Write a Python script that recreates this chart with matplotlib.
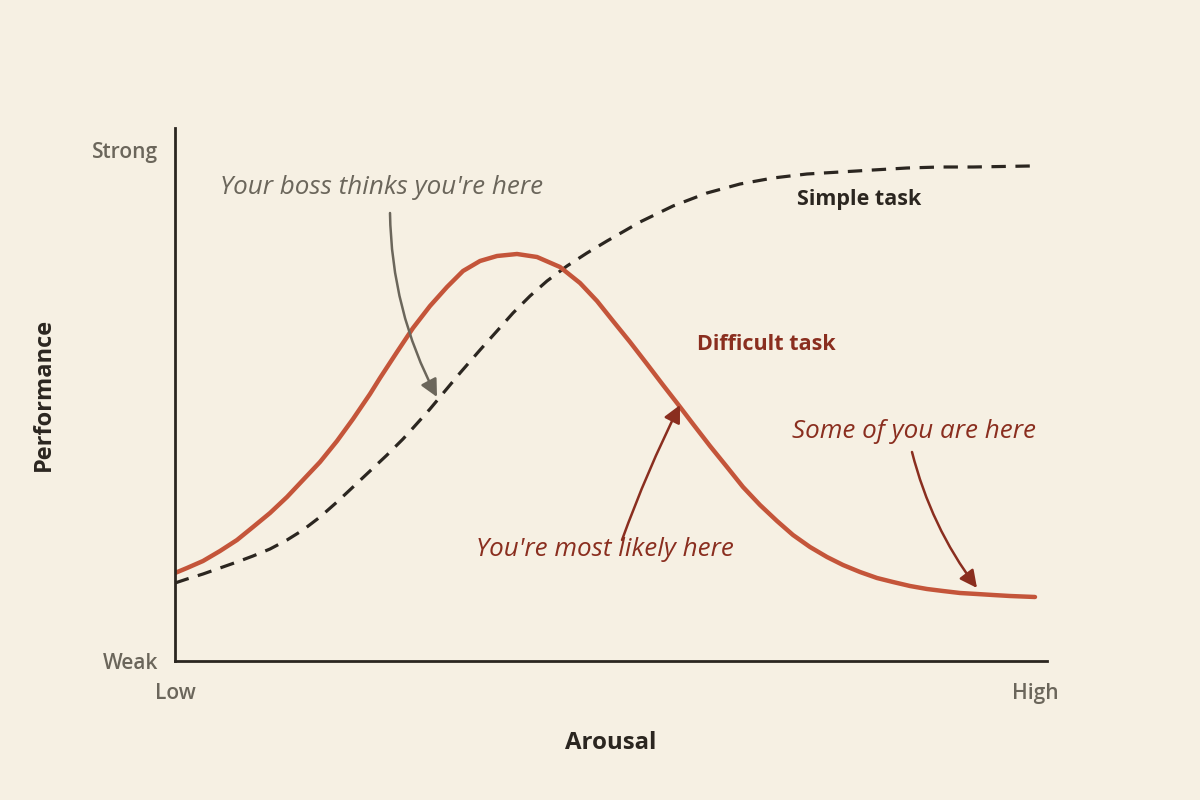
#!/usr/bin/env python3

"""
Yerkes-Dodson style chart: performance vs arousal
"""

import matplotlib
matplotlib.use("Agg")
import matplotlib.pyplot as plt

# Arbitrary units (x: arousal, y: performance)
difficult_x = [0, 12, 28, 45, 62, 78, 95, 112, 128, 145, 162, 178, 195, 205, 222, 238,
               255, 272, 288, 305, 322, 342, 362, 385, 405, 422, 438, 455, 472, 488, 502,
               518, 535, 552, 568, 585, 602, 618, 635, 652, 668, 685, 702, 718, 735, 752,
               768, 785, 802, 818, 835, 860]
difficult_y = [88, 93, 100, 110, 121, 134, 148, 164, 181, 199, 220, 242, 267, 283, 309, 333,
               355, 374, 390, 400, 405, 407, 404, 394, 378, 360, 340, 319, 297, 276, 258,
               237, 215, 194, 174, 156, 140, 126, 114, 104, 96, 89, 83, 79, 75, 72,
               70, 68, 67, 66, 65, 64]

simple_x = [0, 12, 28, 45, 62, 78, 95, 112, 128, 145, 162, 178, 195, 212, 228, 238, 255,
            265, 285, 305, 322, 338, 355, 372, 392, 412, 432, 465, 498, 532, 565, 598,
            632, 665, 698, 732, 765, 798, 855]
simple_y = [78, 82, 87, 93, 99, 105, 112, 121, 131, 144, 159, 174, 190, 206, 222, 233, 252,
            264, 288, 311, 330, 348, 365, 380, 395, 408, 420, 439, 455, 468, 477, 483,
            487, 489, 491, 493, 494, 494, 495]

y_ticks = [0, 511]
y_labels = ["Weak", "Strong"]
x_ticks = [0, 860]
x_labels = ["Low", "High"]

bg = "#F6F0E3"
red = "#C4553A"
dark_red = "#8A2E1F"
ink = "#2B2620"
gray = "#6B665B"

hand = {"family": "Open Sans", "style": "italic", "size": 18.7}
sans = ["Open Sans", "DejaVu Sans"]

fig = plt.figure(figsize=(12, 8), dpi=100, facecolor=bg)
ax = fig.add_axes([175 / 1200, 139 / 800, 872 / 1200, 533 / 800])
ax.set_facecolor(bg)

ax.plot(simple_x, simple_y, color=ink, lw=2.3, ls=(0, (4.5, 3)), solid_capstyle="butt")
ax.plot(difficult_x, difficult_y, color=red, lw=3.2, solid_capstyle="round",
        solid_joinstyle="round")

ax.set_xlim(0, 872)
ax.set_ylim(0, 533)
for s in ["top", "right"]:
    ax.spines[s].set_visible(False)
for s in ["left", "bottom"]:
    ax.spines[s].set_color(ink)
    ax.spines[s].set_linewidth(2)

ax.set_xticks(x_ticks, x_labels)
ax.set_yticks(y_ticks, y_labels)
ax.tick_params(length=0, labelsize=15, labelcolor=gray)
ax.tick_params(axis="x", pad=16)
ax.tick_params(axis="y", pad=12)
for lab in ax.get_xticklabels() + ax.get_yticklabels():
    lab.set_family(sans)
    lab.set_weight("semibold")

ax.set_xlabel("Arousal", fontsize=17.3, fontweight="bold", color=ink, family=sans, labelpad=19)
ax.set_ylabel("Performance", fontsize=17, fontweight="bold", color=ink, family=sans, labelpad=26)

# Curve labels
ax.text(684, 461, "Simple task", fontsize=15.5, fontweight="bold", color=ink,
        family=sans, ha="center", va="center")
ax.text(591, 317, "Difficult task", fontsize=15.5, fontweight="bold", color=dark_red,
        family=sans, ha="center", va="center")

# Annotations
ax.text(207, 474, "Your boss thinks you're here", color=gray, ha="center", va="center", **hand)
ax.annotate("", xy=(262, 264), xytext=(215, 448),
            arrowprops=dict(arrowstyle="-|>", color=gray, lw=1.8, mutation_scale=26,
                            connectionstyle="arc3,rad=0.12", shrinkA=0, shrinkB=0))

ax.text(430, 111, "You're most likely here", color=dark_red, ha="center", va="center", **hand)
ax.annotate("", xy=(505, 256), xytext=(447, 121),
            arrowprops=dict(arrowstyle="-|>", color=dark_red, lw=1.8, mutation_scale=26,
                            connectionstyle="arc3,rad=-0.03", shrinkA=0, shrinkB=0))

ax.text(739, 229, "Some of you are here", color=dark_red, ha="center", va="center", **hand)
ax.annotate("", xy=(802, 73), xytext=(737, 209),
            arrowprops=dict(arrowstyle="-|>", color=dark_red, lw=1.8, mutation_scale=26,
                            connectionstyle="arc3,rad=0.1", shrinkA=0, shrinkB=0))

fig.savefig("out.png", dpi=100, facecolor=bg)
